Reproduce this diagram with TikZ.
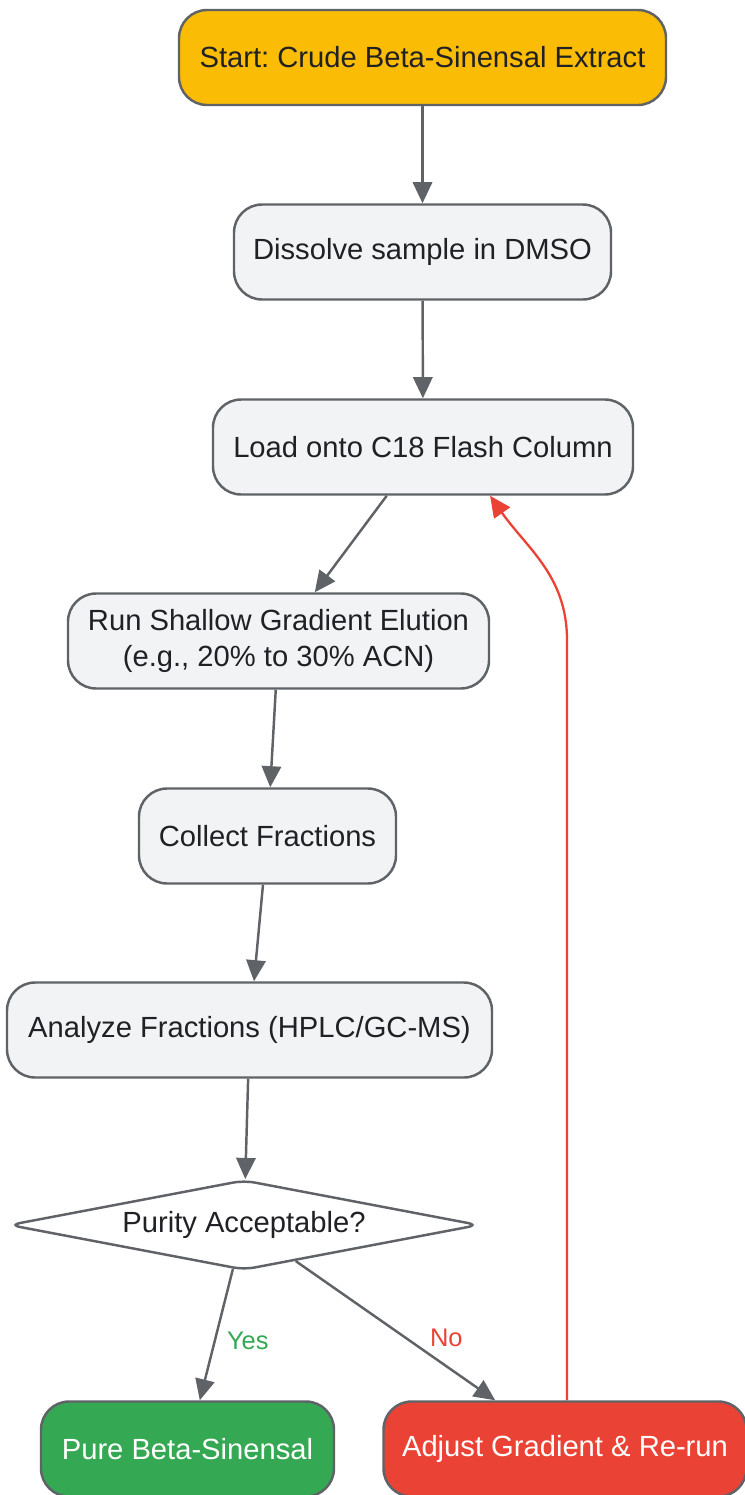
\documentclass[tikz,border=0pt]{standalone}
\usepackage{fontspec}
\setmainfont{Liberation Sans}
\usetikzlibrary{shapes.geometric,arrows.meta,positioning}
\definecolor{mygray}{RGB}{95,99,104}
\definecolor{myfill}{RGB}{241,243,244}
\definecolor{mytext}{RGB}{32,33,36}
\definecolor{mygold}{RGB}{251,188,5}
\definecolor{mygreen}{RGB}{52,168,83}
\definecolor{myred}{RGB}{234,67,53}
\frenchspacing

\begin{document}
\begin{tikzpicture}[
    box/.style={draw=mygray, line width=1.4pt, fill=myfill, rounded corners=16pt,
      minimum height=1.9cm, text=mytext, font=\fontsize{16.6}{20.5}\selectfont, align=center},
    choice/.style={diamond, draw=mygray, line width=1.4pt, fill=white, rounded corners=6pt,
      shape aspect=5, inner sep=0pt, minimum width=9.4cm, minimum height=1.8cm,
      text=mytext, font=\fontsize{16.6}{20.5}\selectfont},
    arr/.style={draw=mygray, line width=1.4pt, -{Triangle[length=12pt,width=11pt]}},
    back/.style={draw=myred, line width=1.3pt, -{Triangle[length=12pt,width=11pt]}},
    lbl/.style={font=\fontsize{14.5}{17}\selectfont}
  ]
    \useasboundingbox (0,0) rectangle (14.9,-29.9);
    \node [box, fill=mygold, minimum width=9.74cm] (start) at (8.45,-1.15) {Start: Crude Beta-Sinensal Extract};
    \node [box, minimum width=7.54cm] (dmso) at (8.45,-5.04) {Dissolve sample in DMSO};
    \node [box, minimum width=8.4cm] (load) at (8.46,-8.94) {Load onto C18 Flash Column};
    \node [box, minimum width=8.42cm] (run) at (5.57,-12.82) {Run Shallow Gradient Elution\\(e.g., 20\% to 30\% ACN)};
    \node [box, minimum width=5.14cm] (coll) at (5.35,-16.72) {Collect Fractions};
    \node [box, minimum width=9.7cm] (anal) at (4.99,-20.6) {Analyze Fractions (HPLC/GC-MS)};
    \node [choice] (pur) at (4.88,-24.5) {Purity Acceptable?};
    \node [box, fill=mygreen, text=white, minimum width=5.86cm] (pure) at (3.75,-28.98) {Pure Beta-Sinensal};
    \node [box, fill=myred, text=white, minimum width=7.26cm] (adj) at (11.3,-28.98) {Adjust Gradient \& Re-run};
    \coordinate (bend) at (11.34,-12.8);
    \draw [arr] (start) -- (dmso);
    \draw [arr] (dmso) -- (load);
    \draw [arr] (load) -- (run);
    \draw [arr] (run) -- (coll);
    \draw [arr] (coll) -- (anal);
    \draw [arr] (anal) -- (pur);
    \draw [arr] (pur) -- node [lbl, text=mygreen, right=3pt, pos=0.55] {Yes} (pure);
    \draw [arr] (pur) -- node [lbl, text=myred, right=10pt, pos=0.55] {No} (adj);
    \draw [back] (adj.north -| bend) -- (bend) to [out=90, in=-55] (load.-36);
  \end{tikzpicture}
\end{document}
